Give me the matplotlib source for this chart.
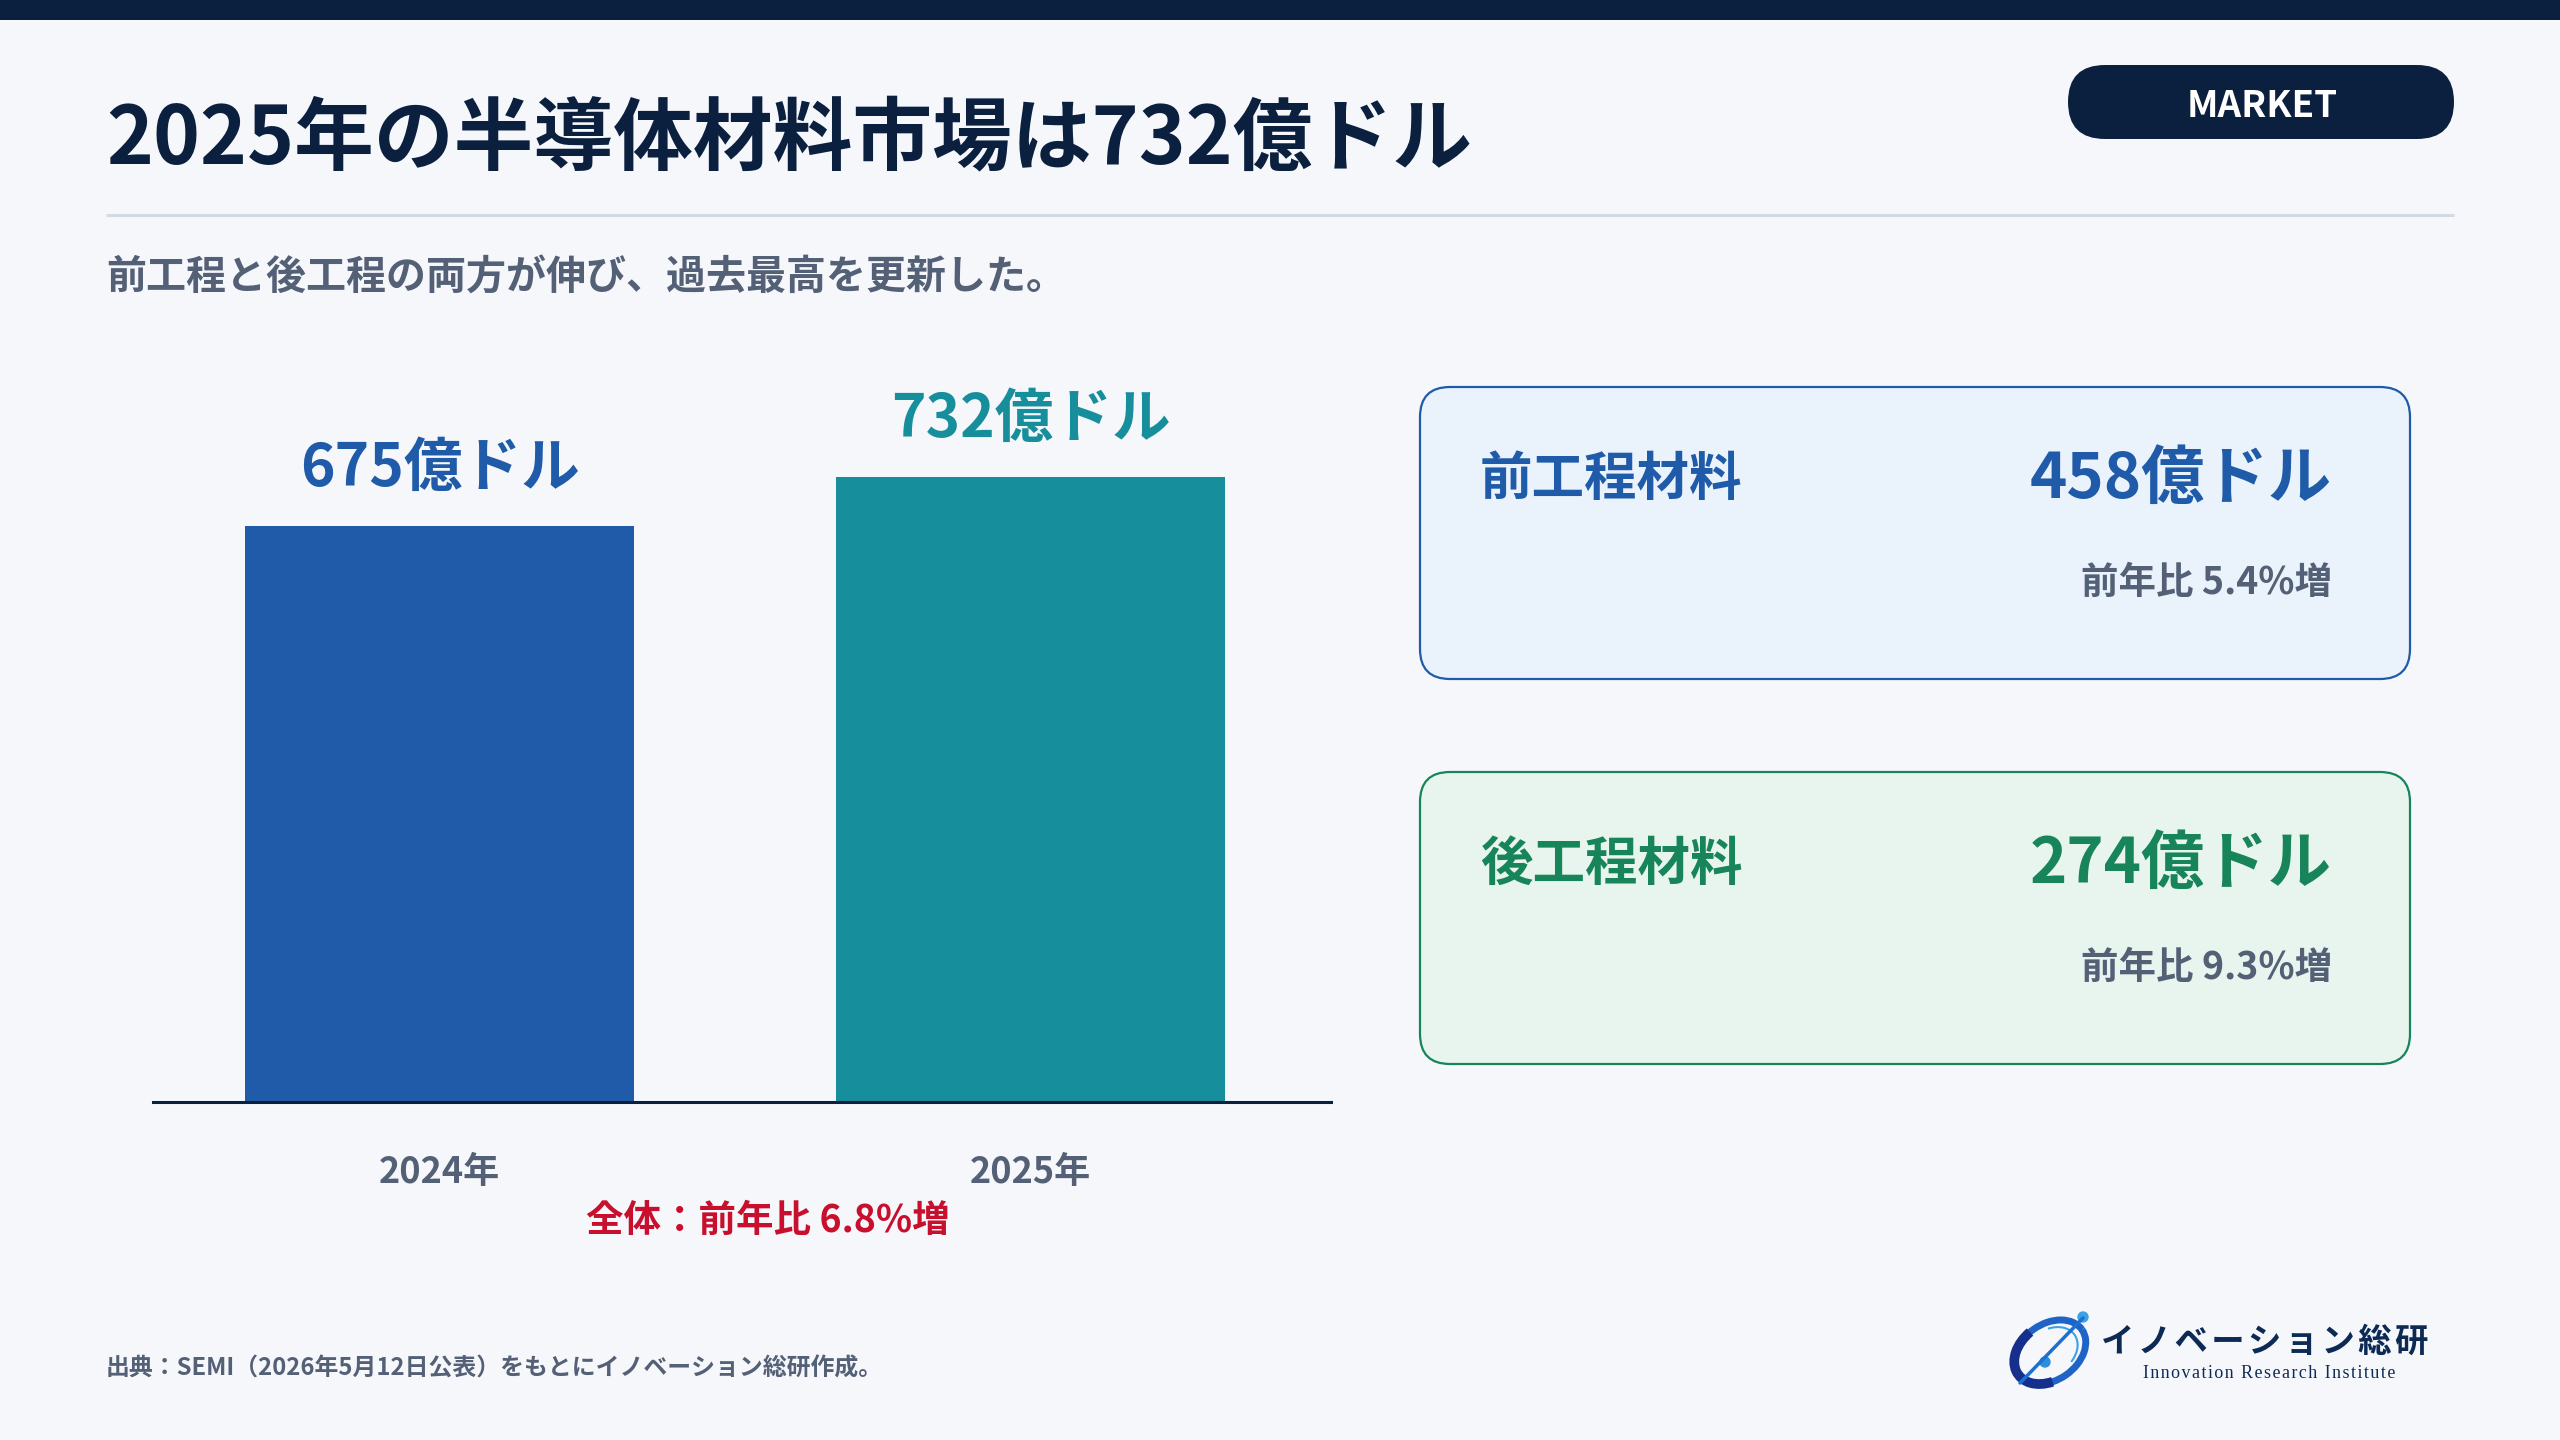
import matplotlib
matplotlib.use("Agg")
import matplotlib.pyplot as plt
from matplotlib.patches import FancyBboxPatch, Rectangle, Arc, Circle

plt.rcParams['font.family'] = ['Noto Sans CJK JP', 'DejaVu Sans']

# ---------------- data ----------------
title = "2025年の半導体材料市場は732億ドル"
subtitle = "前工程と後工程の両方が伸び、過去最高を更新した。"
badge = "MARKET"
years = ["2024年", "2025年"]
totals = [675, 732]
total_labels = ["675億ドル", "732億ドル"]
overall_growth = "全体：前年比 6.8%増"
segments = ["前工程材料", "後工程材料"]
segment_values = ["458億ドル", "274億ドル"]
segment_growth = ["前年比 5.4%増", "前年比 9.3%増"]
source = "出典：SEMI（2026年5月12日公表）をもとにイノベーション総研作成。"
logo_jp = "イノベーション総研"
logo_en = "Innovation Research Institute"

# ---------------- colours ----------------
BG = "#f5f7fb"
NAVY = "#0b1f3f"
GRAY = "#536076"
BLUE = "#1f5ba8"
TEAL = "#178e9b"
GREEN = "#17845a"
RED = "#c8102e"
bar_colors = [BLUE, TEAL]
card_fill = ["#eaf2fc", "#e8f5ef"]
card_edge = [BLUE, GREEN]
card_text = [BLUE, GREEN]

W, H = 2560, 1440
fig = plt.figure(figsize=(25.6, 14.4), dpi=100, facecolor=BG)

# background axes in pixel coordinates (y downwards)
bg = fig.add_axes([0, 0, 1, 1], zorder=0)
bg.set_xlim(0, W)
bg.set_ylim(H, 0)
bg.axis("off")
bg.set_facecolor(BG)

# top bar
bg.add_patch(Rectangle((0, 0), W, 20, color=NAVY, lw=0))

# title
bg.text(106, 163, title, fontsize=57.4, fontweight="bold", color=NAVY, va="baseline", ha="left")
# separator
bg.plot([106, 2454], [215, 215], color="#d3dae5", lw=2.2, solid_capstyle="butt")
# subtitle
bg.text(106, 290, subtitle, fontsize=28.8, fontweight="bold", color=GRAY, va="baseline", ha="left")

# badge
bg.add_patch(FancyBboxPatch((2068, 65), 386, 74, boxstyle="round,pad=0,rounding_size=37",
                            facecolor=NAVY, edgecolor="none"))
bg.text(2262, 117, badge, fontsize=26.5, fontweight="bold", color="white", va="baseline", ha="center")

# cards
card_tops = [387, 772]
card_h = 292
for i in range(2):
    top = card_tops[i]
    bg.add_patch(FancyBboxPatch((1420, top), 990, card_h, boxstyle="round,pad=0,rounding_size=30",
                                facecolor=card_fill[i], edgecolor=card_edge[i], lw=1.6))
    bg.text(1480, top + 108, segments[i], fontsize=37.8, fontweight="bold", color=card_text[i],
            va="baseline", ha="left")
    bg.text(2332, top + 111, segment_values[i], fontsize=45.6, fontweight="bold", color=card_text[i],
            va="baseline", ha="right")
    bg.text(2332, top + 207, segment_growth[i], fontsize=27, fontweight="bold", color=GRAY,
            va="baseline", ha="right")

# overall growth
bg.text(768, 1232, overall_growth, fontsize=27, fontweight="bold", color=RED, va="baseline", ha="center")

# footer
bg.text(106, 1376, source, fontsize=17.2, fontweight="bold", color=GRAY, va="baseline", ha="left")

# logo
bg.add_patch(Arc((2050, 1352), 78, 56, angle=-35, theta1=0, theta2=360, color="#1f63c6", lw=5))
bg.add_patch(Arc((2050, 1352), 78, 56, angle=-35, theta1=120, theta2=260, color="#162f8c", lw=7))
bg.add_patch(Arc((2050, 1352), 60, 44, angle=-35, theta1=300, theta2=60, color="#3aa3e6", lw=1.5))
bg.plot([2020, 2083], [1383, 1318], color="#1f6fd0", lw=2.5, solid_capstyle="round")
bg.add_patch(Circle((2083, 1317), 5, color="#3aa3e6"))
bg.add_patch(Circle((2045, 1362), 5, color="#2d8fdc"))
bg.text(2101, 1352, "\u200a".join(logo_jp), fontsize=24, fontweight="bold", color="#0d2a55",
        va="baseline", ha="left", family=["Noto Sans CJK JP", "DejaVu Sans"])
bg.text(2269, 1378, "\u200a".join(logo_en), fontsize=12.9, family=["Liberation Serif", "DejaVu Serif"],
        color="#0d2a55", va="baseline", ha="center")

# ---------------- bar chart ----------------
base_px = 1102
px_per_unit = 0.8535
ytop = 850
ax = fig.add_axes([153 / W, (H - base_px) / H, (1331 - 153) / W, ytop * px_per_unit / H], zorder=1)
ax.set_facecolor("none")
x = [0, 1]
ax.bar(x, totals, width=0.658, color=bar_colors, zorder=2)
ax.set_xlim(-0.485, 1.508)
ax.set_ylim(0, ytop)
for s in ["top", "right", "left"]:
    ax.spines[s].set_visible(False)
ax.spines["bottom"].set_color(NAVY)
ax.spines["bottom"].set_linewidth(2.2)
ax.set_xticks([])
ax.set_yticks([])

for xi, v, lab, c in zip(x, totals, total_labels, bar_colors):
    ax.annotate(lab, xy=(xi, v), xytext=(0, 28.8), textcoords="offset points",
                ha="center", va="baseline", fontsize=42.2, fontweight="bold", color=c)
for xi, yr in zip(x, years):
    ax.annotate(yr, xy=(xi, 0), xytext=(0, -58.3), textcoords="offset points",
                ha="center", va="baseline", fontsize=26, fontweight="bold", color=GRAY,
                annotation_clip=False)

fig.savefig("out.png", dpi=100, facecolor=BG)
